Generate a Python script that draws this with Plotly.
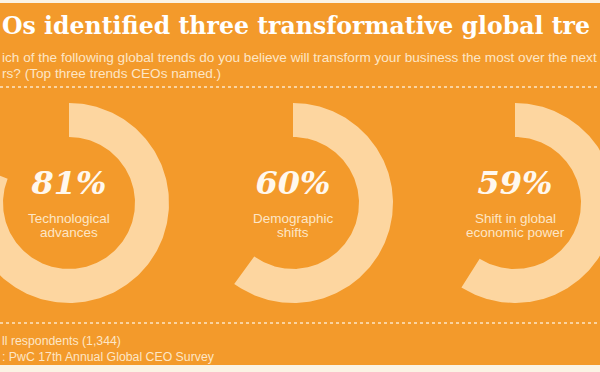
import numpy as np
import plotly.graph_objects as go

# ---- data ----
trends = ["Technological<br>advances", "Demographic<br>shifts", "Shift in global<br>economic power"]
shares = [81, 60, 59]

title_text = "Os identified three transformative global tre"
subtitle_lines = [
    "ich of the following global trends do you believe will transform your business the most over the next",
    "rs? (Top three trends CEOs named.)",
]
footer_lines = ["ll respondents (1,344)", ": PwC 17th Annual Global CEO Survey"]

# ---- style / layout ----
W, H = 600, 372
ORANGE = "#F39A2B"
RING = "#FDD6A0"
CREAM = "#FDE6C6"
CX = [69, 293, 515]
CY = 203
R_OUT, R_IN = 100, 66

fig = go.Figure()

for cx, share in zip(CX, shares):
    th = np.linspace(0, share / 100 * 2 * np.pi, 240)
    xo = cx + R_OUT * np.sin(th)
    yo = CY - R_OUT * np.cos(th)
    xi = cx + R_IN * np.sin(th[::-1])
    yi = CY - R_IN * np.cos(th[::-1])
    fig.add_trace(go.Scatter(
        x=np.concatenate([xo, xi, xo[:1]]),
        y=np.concatenate([yo, yi, yo[:1]]),
        mode="lines", fill="toself", fillcolor=RING,
        line=dict(width=0, color=RING), hoverinfo="skip", showlegend=False,
    ))

# percentages
fig.add_trace(go.Scatter(
    x=CX, y=[CY - 17.5] * 3, mode="text",
    text=[f"{v}%" for v in shares],
    textfont=dict(family="DejaVu Serif", size=32, color="#FFF8EE", weight="bold", style="italic"),
    hoverinfo="skip", showlegend=False,
))

annotations = []
for cx, lab in zip(CX, trends):
    for k, line in enumerate(lab.split("<br>")):
        annotations.append(dict(
            x=cx, y=CY + 15 + 14.5 * k, xref="x", yref="y", text=line, showarrow=False,
            xanchor="center", yanchor="middle",
            font=dict(family="Liberation Sans, Arial", size=13.5, color=CREAM),
        ))

annotations.append(dict(
    x=0, y=26, xref="x", yref="y", text=title_text, showarrow=False,
    xanchor="left", yanchor="middle",
    font=dict(family="DejaVu Serif", size=23.6, color="#FFFFFF", weight="bold"),
))
for k, line in enumerate(subtitle_lines):
    annotations.append(dict(
        x=0, y=57 + 16 * k, xref="x", yref="y", text=line, showarrow=False,
        xanchor="left", yanchor="middle",
        font=dict(family="Liberation Sans, Arial", size=13.6, color=CREAM),
    ))
for k, line in enumerate(footer_lines):
    annotations.append(dict(
        x=0, y=341 + 16 * k, xref="x", yref="y", text=line, showarrow=False,
        xanchor="left", yanchor="middle",
        font=dict(family="Liberation Sans, Arial", size=12.3, color=CREAM),
    ))

shapes = [
    dict(type="rect", xref="x", yref="y", x0=0, x1=W, y0=3, y1=365,
         fillcolor=ORANGE, line=dict(width=0), layer="below"),
    dict(type="line", xref="x", yref="y", x0=0, x1=W, y0=87, y1=87,
         line=dict(color=CREAM, width=1.5, dash="dot"), layer="above"),
    dict(type="line", xref="x", yref="y", x0=0, x1=W, y0=323, y1=323,
         line=dict(color=CREAM, width=1.5, dash="dot"), layer="above"),
]

fig.update_layout(
    width=W, height=H, margin=dict(l=0, r=0, t=0, b=0),
    paper_bgcolor="#FBF3E4", plot_bgcolor="rgba(0,0,0,0)",
    xaxis=dict(range=[0, W], visible=False, fixedrange=True),
    yaxis=dict(range=[H, 0], visible=False, fixedrange=True),
    shapes=shapes, annotations=annotations, showlegend=False,
)

fig.write_html(
    "out.html",
    config={"displayModeBar": False},
    post_script="document.body.style.margin='0';document.body.style.overflow='hidden';",
)
